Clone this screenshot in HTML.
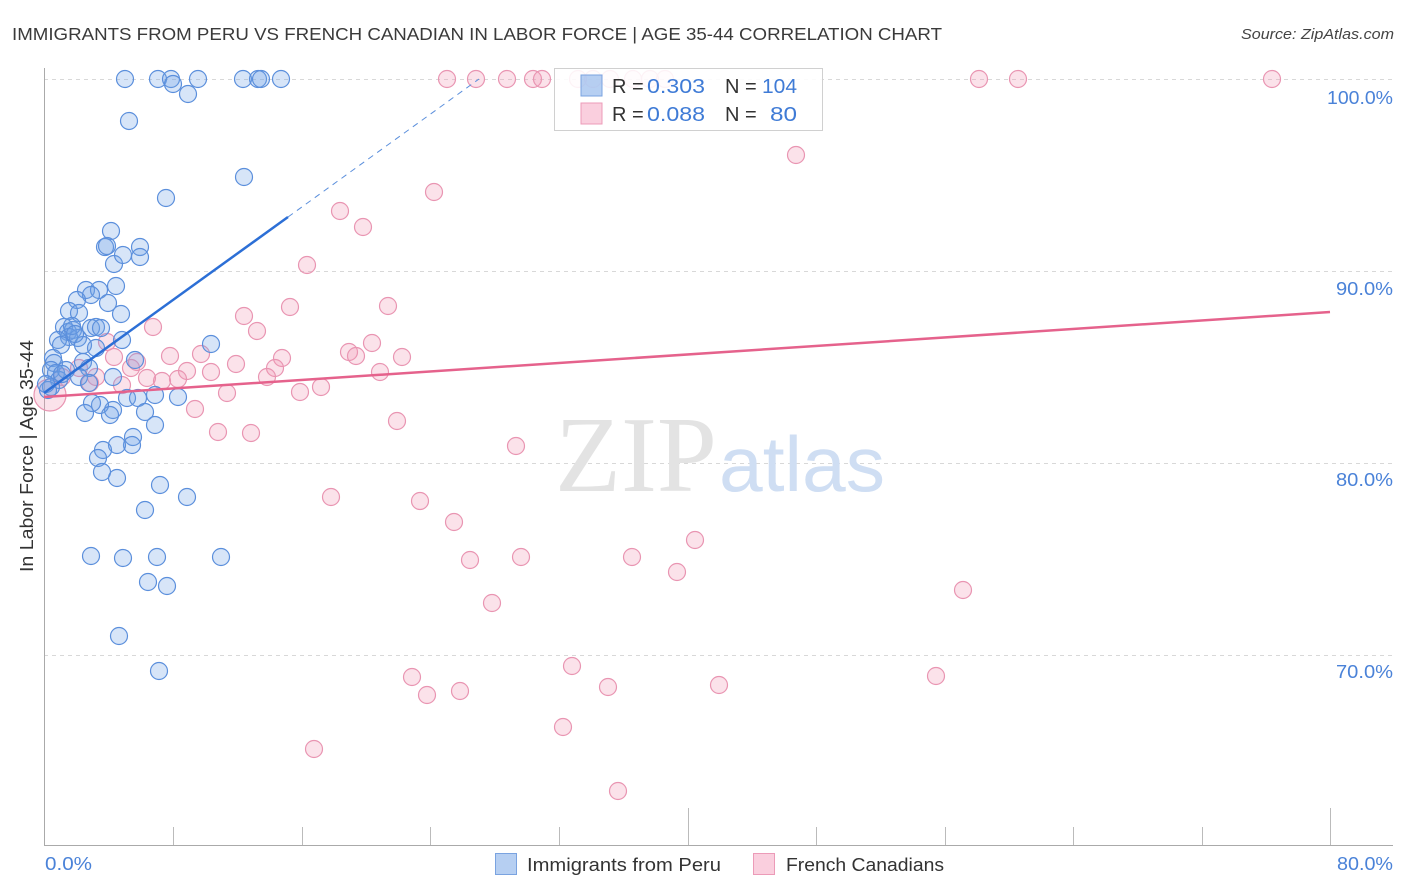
<!DOCTYPE html>
<html><head><meta charset="utf-8"><style>
html,body{margin:0;padding:0;background:#fff;}
svg{display:block;font-family:"Liberation Sans",sans-serif;}
</style></head><body>
<svg width="1406" height="892" viewBox="0 0 1406 892" xmlns="http://www.w3.org/2000/svg">
<rect width="1406" height="892" fill="#fff"/>
<text x="12" y="40" font-size="17.5" fill="#3a3a3a" textLength="930" lengthAdjust="spacingAndGlyphs">IMMIGRANTS FROM PERU VS FRENCH CANADIAN IN LABOR FORCE | AGE 35-44 CORRELATION CHART</text>
<text x="1241" y="39" font-size="14.5" fill="#444" font-style="italic" textLength="153" lengthAdjust="spacingAndGlyphs">Source: ZipAtlas.com</text>
<g stroke="#d8d8d8" stroke-width="1" stroke-dasharray="4,4">
<line x1="44" y1="79.5" x2="1393" y2="79.5"/>
<line x1="44" y1="271.5" x2="1393" y2="271.5"/>
<line x1="44" y1="463.5" x2="1393" y2="463.5"/>
<line x1="44" y1="655.5" x2="1393" y2="655.5"/>
</g>
<text x="555" y="491" font-family="'Liberation Serif',serif" font-size="108" fill="#e3e3e3">ZIP</text>
<text x="719" y="491" font-size="78" fill="#cfdef3" textLength="166" lengthAdjust="spacingAndGlyphs">atlas</text>
<line x1="44.5" y1="68" x2="44.5" y2="845" stroke="#aaa" stroke-width="1"/>
<line x1="44" y1="845.5" x2="1393" y2="845.5" stroke="#aaa" stroke-width="1"/>
<g stroke="#bbb" stroke-width="1">
<line x1="173.5" y1="827" x2="173.5" y2="845"/><line x1="302.5" y1="827" x2="302.5" y2="845"/>
<line x1="430.5" y1="827" x2="430.5" y2="845"/><line x1="559.5" y1="827" x2="559.5" y2="845"/>
<line x1="688.5" y1="808" x2="688.5" y2="845"/><line x1="816.5" y1="827" x2="816.5" y2="845"/>
<line x1="945.5" y1="827" x2="945.5" y2="845"/><line x1="1073.5" y1="827" x2="1073.5" y2="845"/>
<line x1="1202.5" y1="827" x2="1202.5" y2="845"/><line x1="1330.5" y1="808" x2="1330.5" y2="845"/>
</g>
<g font-size="18" fill="#4a82d8">
<text x="1327" y="104" textLength="66" lengthAdjust="spacingAndGlyphs">100.0%</text>
<text x="1336" y="295" textLength="57" lengthAdjust="spacingAndGlyphs">90.0%</text>
<text x="1336" y="486" textLength="57" lengthAdjust="spacingAndGlyphs">80.0%</text>
<text x="1336" y="678" textLength="57" lengthAdjust="spacingAndGlyphs">70.0%</text>
<text x="1337" y="870" textLength="56" lengthAdjust="spacingAndGlyphs">80.0%</text>
<text x="45" y="870" textLength="47" lengthAdjust="spacingAndGlyphs">0.0%</text>
</g>
<text transform="translate(33,572) rotate(-90)" font-size="18" fill="#333" textLength="232" lengthAdjust="spacingAndGlyphs">In Labor Force | Age 35-44</text>

<g fill="rgba(240,150,180,0.28)" stroke="#e995b2" stroke-width="1.2">
<circle cx="50" cy="395" r="16"/>
<circle cx="447" cy="79" r="8.5"/><circle cx="476" cy="79" r="8.5"/><circle cx="507" cy="79" r="8.5"/><circle cx="533" cy="79" r="8.5"/><circle cx="542" cy="79" r="8.5"/><circle cx="578" cy="79" r="8.5"/><circle cx="593" cy="79" r="8.5"/><circle cx="610" cy="79" r="8.5"/><circle cx="633" cy="79" r="8.5"/><circle cx="650" cy="79" r="8.5"/><circle cx="665" cy="79" r="8.5"/><circle cx="979" cy="79" r="8.5"/><circle cx="1018" cy="79" r="8.5"/><circle cx="1272" cy="79" r="8.5"/>
<circle cx="796" cy="155" r="8.5"/><circle cx="434" cy="192" r="8.5"/><circle cx="340" cy="211" r="8.5"/><circle cx="363" cy="227" r="8.5"/><circle cx="307" cy="265" r="8.5"/><circle cx="290" cy="307" r="8.5"/><circle cx="388" cy="306" r="8.5"/><circle cx="244" cy="316" r="8.5"/><circle cx="257" cy="331" r="8.5"/><circle cx="153" cy="327" r="8.5"/><circle cx="372" cy="343" r="8.5"/><circle cx="349" cy="352" r="8.5"/><circle cx="356" cy="356" r="8.5"/><circle cx="402" cy="357" r="8.5"/><circle cx="170" cy="356" r="8.5"/><circle cx="201" cy="354" r="8.5"/><circle cx="282" cy="358" r="8.5"/><circle cx="275" cy="368" r="8.5"/><circle cx="267" cy="377" r="8.5"/><circle cx="236" cy="364" r="8.5"/><circle cx="211" cy="372" r="8.5"/><circle cx="187" cy="371" r="8.5"/><circle cx="178" cy="379" r="8.5"/><circle cx="162" cy="381" r="8.5"/><circle cx="380" cy="372" r="8.5"/><circle cx="300" cy="392" r="8.5"/><circle cx="321" cy="387" r="8.5"/><circle cx="227" cy="393" r="8.5"/><circle cx="195" cy="409" r="8.5"/><circle cx="397" cy="421" r="8.5"/><circle cx="218" cy="432" r="8.5"/><circle cx="251" cy="433" r="8.5"/><circle cx="516" cy="446" r="8.5"/><circle cx="331" cy="497" r="8.5"/><circle cx="420" cy="501" r="8.5"/><circle cx="454" cy="522" r="8.5"/><circle cx="470" cy="560" r="8.5"/><circle cx="521" cy="557" r="8.5"/><circle cx="632" cy="557" r="8.5"/><circle cx="695" cy="540" r="8.5"/><circle cx="677" cy="572" r="8.5"/><circle cx="492" cy="603" r="8.5"/><circle cx="963" cy="590" r="8.5"/><circle cx="572" cy="666" r="8.5"/><circle cx="412" cy="677" r="8.5"/><circle cx="427" cy="695" r="8.5"/><circle cx="460" cy="691" r="8.5"/><circle cx="608" cy="687" r="8.5"/><circle cx="719" cy="685" r="8.5"/><circle cx="936" cy="676" r="8.5"/><circle cx="563" cy="727" r="8.5"/><circle cx="314" cy="749" r="8.5"/><circle cx="618" cy="791" r="8.5"/>
<circle cx="107" cy="342" r="8.5"/><circle cx="114" cy="357" r="8.5"/><circle cx="137" cy="362" r="8.5"/><circle cx="131" cy="368" r="8.5"/><circle cx="147" cy="378" r="8.5"/><circle cx="122" cy="385" r="8.5"/><circle cx="90" cy="383" r="8.5"/><circle cx="62" cy="377" r="8.5"/><circle cx="79" cy="368" r="8.5"/><circle cx="96" cy="377" r="8.5"/>
</g>

<g fill="rgba(110,160,230,0.28)" stroke="#5b8fdc" stroke-width="1.2">
<circle cx="125" cy="79" r="8.5"/><circle cx="158" cy="79" r="8.5"/><circle cx="171" cy="79" r="8.5"/><circle cx="173" cy="84" r="8.5"/><circle cx="188" cy="94" r="8.5"/><circle cx="198" cy="79" r="8.5"/><circle cx="243" cy="79" r="8.5"/><circle cx="258" cy="79" r="8.5"/><circle cx="261" cy="79" r="8.5"/><circle cx="281" cy="79" r="8.5"/>
<circle cx="129" cy="121" r="8.5"/><circle cx="244" cy="177" r="8.5"/><circle cx="166" cy="198" r="8.5"/><circle cx="111" cy="231" r="8.5"/><circle cx="105" cy="247" r="8.5"/><circle cx="107" cy="246" r="8.5"/><circle cx="140" cy="247" r="8.5"/><circle cx="114" cy="264" r="8.5"/><circle cx="123" cy="255" r="8.5"/><circle cx="140" cy="257" r="8.5"/>
<circle cx="86" cy="290" r="8.5"/><circle cx="99" cy="290" r="8.5"/><circle cx="116" cy="286" r="8.5"/><circle cx="91" cy="295" r="8.5"/><circle cx="77" cy="300" r="8.5"/><circle cx="108" cy="303" r="8.5"/><circle cx="69" cy="311" r="8.5"/><circle cx="79" cy="313" r="8.5"/><circle cx="121" cy="314" r="8.5"/>
<circle cx="64" cy="327" r="8.5"/><circle cx="68" cy="332" r="8.5"/><circle cx="73" cy="330" r="8.5"/><circle cx="69" cy="337" r="8.5"/><circle cx="78" cy="338" r="8.5"/><circle cx="58" cy="340" r="8.5"/><circle cx="91" cy="328" r="8.5"/><circle cx="96" cy="327" r="8.5"/><circle cx="101" cy="328" r="8.5"/><circle cx="83" cy="345" r="8.5"/><circle cx="61" cy="345" r="8.5"/><circle cx="122" cy="340" r="8.5"/><circle cx="96" cy="348" r="8.5"/><circle cx="72" cy="326" r="8.5"/><circle cx="75" cy="334" r="8.5"/>
<circle cx="53" cy="358" r="8.5"/><circle cx="54" cy="363" r="8.5"/><circle cx="51" cy="370" r="8.5"/><circle cx="56" cy="373" r="8.5"/><circle cx="83" cy="362" r="8.5"/><circle cx="89" cy="368" r="8.5"/><circle cx="59" cy="380" r="8.5"/><circle cx="51" cy="387" r="8.5"/><circle cx="48" cy="390" r="8.5"/><circle cx="79" cy="377" r="8.5"/><circle cx="89" cy="383" r="8.5"/><circle cx="113" cy="377" r="8.5"/><circle cx="135" cy="360" r="8.5"/><circle cx="66" cy="370" r="8.5"/><circle cx="62" cy="374" r="8.5"/><circle cx="46" cy="384" r="8.5"/>
<circle cx="211" cy="344" r="8.5"/><circle cx="178" cy="397" r="8.5"/><circle cx="155" cy="395" r="8.5"/><circle cx="127" cy="398" r="8.5"/><circle cx="138" cy="398" r="8.5"/><circle cx="113" cy="410" r="8.5"/><circle cx="100" cy="405" r="8.5"/><circle cx="92" cy="403" r="8.5"/><circle cx="85" cy="413" r="8.5"/><circle cx="110" cy="415" r="8.5"/><circle cx="145" cy="412" r="8.5"/><circle cx="155" cy="425" r="8.5"/><circle cx="133" cy="437" r="8.5"/><circle cx="132" cy="445" r="8.5"/><circle cx="117" cy="445" r="8.5"/><circle cx="103" cy="450" r="8.5"/><circle cx="98" cy="458" r="8.5"/><circle cx="102" cy="472" r="8.5"/><circle cx="117" cy="478" r="8.5"/><circle cx="160" cy="485" r="8.5"/><circle cx="187" cy="497" r="8.5"/><circle cx="145" cy="510" r="8.5"/>
<circle cx="91" cy="556" r="8.5"/><circle cx="123" cy="558" r="8.5"/><circle cx="157" cy="557" r="8.5"/><circle cx="221" cy="557" r="8.5"/><circle cx="148" cy="582" r="8.5"/><circle cx="167" cy="586" r="8.5"/><circle cx="119" cy="636" r="8.5"/><circle cx="159" cy="671" r="8.5"/>
</g>

<line x1="44" y1="397" x2="1330" y2="312" stroke="#e5628c" stroke-width="2.5"/>
<line x1="44" y1="393" x2="288" y2="217" stroke="#2c6fd6" stroke-width="2.5"/>
<line x1="288" y1="217" x2="479" y2="79" stroke="#5b8fdc" stroke-width="1" stroke-dasharray="6,5"/>

<rect x="554.5" y="68.5" width="268" height="62" fill="rgba(255,255,255,0.88)" stroke="#d0d0d0" stroke-width="1"/>
<rect x="581" y="75" width="21" height="21" fill="rgba(110,160,230,0.5)" stroke="#7aa3e0" stroke-width="1"/>
<rect x="581" y="103" width="21" height="21" fill="rgba(245,160,190,0.5)" stroke="#ec9bb8" stroke-width="1"/>
<g font-size="20">
<text x="612" y="93" fill="#333">R = </text><text x="647" y="93" fill="#3f7bd6" textLength="58" lengthAdjust="spacingAndGlyphs">0.303</text>
<text x="725" y="93" fill="#333">N = </text><text x="762" y="93" fill="#3f7bd6" textLength="35" lengthAdjust="spacingAndGlyphs">104</text>
<text x="612" y="121" fill="#333">R = </text><text x="647" y="121" fill="#3f7bd6" textLength="58" lengthAdjust="spacingAndGlyphs">0.088</text>
<text x="725" y="121" fill="#333">N = </text><text x="770" y="121" fill="#3f7bd6" textLength="27" lengthAdjust="spacingAndGlyphs">80</text>
</g>

<rect x="495.5" y="853.5" width="21" height="21" fill="rgba(110,160,230,0.5)" stroke="#7aa3e0" stroke-width="1"/>
<text x="527" y="871" font-size="18.5" fill="#333" textLength="194" lengthAdjust="spacingAndGlyphs">Immigrants from Peru</text>
<rect x="753.5" y="853.5" width="21" height="21" fill="rgba(245,160,190,0.5)" stroke="#ec9bb8" stroke-width="1"/>
<text x="786" y="871" font-size="18.5" fill="#333" textLength="158" lengthAdjust="spacingAndGlyphs">French Canadians</text>
</svg>
</body></html>
